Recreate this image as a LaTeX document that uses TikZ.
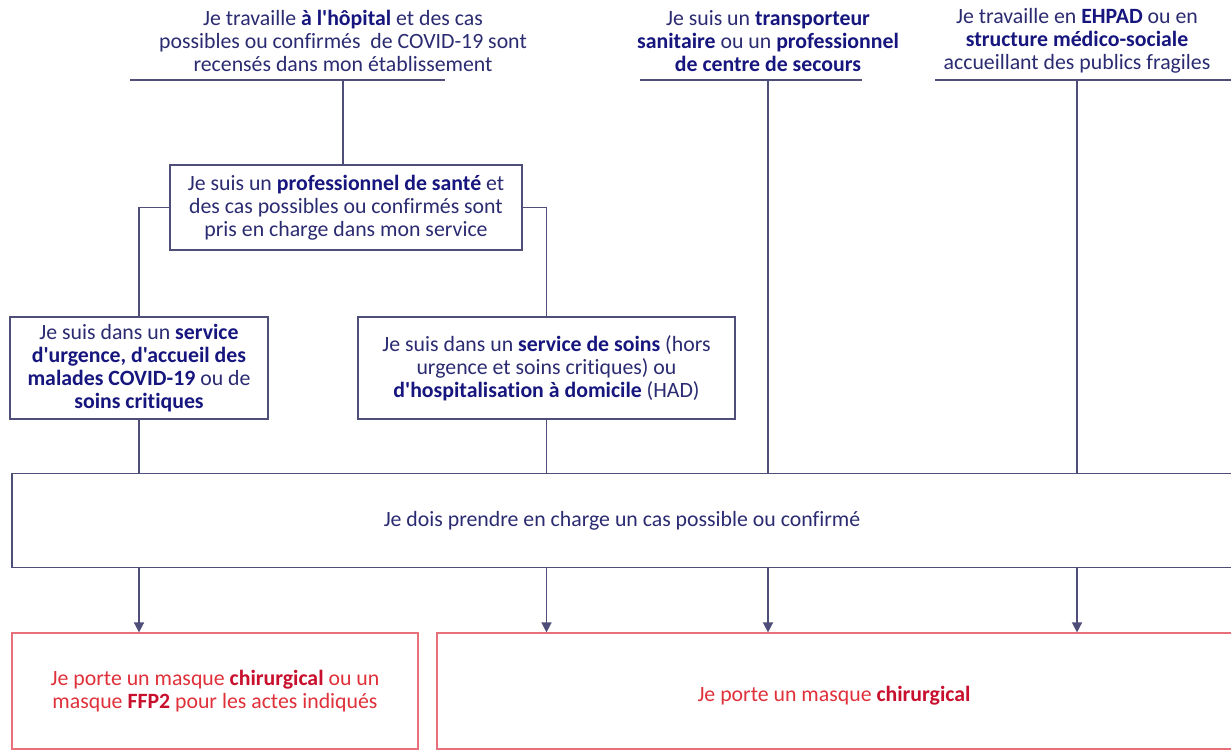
\documentclass[tikz,border=0pt]{standalone}
\usepackage{fontspec}
\setmainfont{Carlito}[Ligatures={TeXOff,NoCommon}]
\usetikzlibrary{arrows.meta}
\definecolor{navy}{HTML}{2B2B72}
\definecolor{bnavy}{HTML}{16167E}
\definecolor{lineg}{HTML}{4E4E78}
\definecolor{rtext}{HTML}{E0303A}
\definecolor{rbold}{HTML}{C8102E}
\definecolor{rline}{HTML}{E8707A}
\newcommand{\hb}[1]{\textbf{\color{bnavy}#1}}
\newcommand{\rb}[1]{\textbf{\color{rbold}#1}}
\tikzset{
  fnt/.style={font=\fontsize{21.8}{22.8}\selectfont},
  txt/.style={align=center,text=navy,fnt,inner sep=0pt},
  bbox/.style={draw=lineg,line width=1.5pt,text=navy,align=center,fnt,inner sep=0pt},
  rbox/.style={draw=rline,line width=1.2pt,text=rtext,align=center,fnt,inner sep=0pt},
  conn/.style={draw=lineg,line width=1.5pt},
  arr/.style={conn,-{Triangle[length=10pt,width=10pt]}},
  uline/.style={draw=lineg,line width=2.2pt}
}
\begin{document}
\begin{tikzpicture}[x=1pt,y=-1pt]
\clip (0,0) rectangle (1231,751);
\useasboundingbox (0,0) rectangle (1231,751);
\fill[white] (0,0) rectangle (1231,751);
% top texts
\node[txt] (t1) at (343,41) {Je travaille \hb{à l'hôpital} et des cas\\possibles ou confirmés\ \ de COVID-19 sont\\recensés dans mon établissement};
\node[txt] (t2) at (768,41) {Je suis un \hb{transporteur}\\\hb{sanitaire} ou un \hb{professionnel}\\\hb{de centre de secours}};
\node[txt] (t3) at (1077,41) {Je travaille en \hb{EHPAD} ou en\\\hb{structure médico-sociale}\\accueillant des publics fragiles};
\coordinate (u1l) at (130,80); \coordinate (u1r) at (445,80); \coordinate (u1c) at (343,80);
\coordinate (u2l) at (640,80); \coordinate (u2r) at (862,80); \coordinate (u2c) at (768,80);
\coordinate (u3l) at (935,80); \coordinate (u3r) at (1240,80); \coordinate (u3c) at (1077,80);
\draw[uline] (u1l) -- (u1r);
\draw[uline] (u2l) -- (u2r);
\draw[uline] (u3l) -- (u3r);
% boxes
\node[bbox,minimum width=352pt,minimum height=85pt] (pro) at (346,207.5) {Je suis un \hb{professionnel de santé} et\\des cas possibles ou confirmés sont\\pris en charge dans mon service};
\node[bbox,minimum width=258pt,minimum height=102pt] (urg) at (139,368) {Je suis dans un \hb{service}\\\hb{d'urgence, d'accueil des}\\\hb{malades COVID-19} ou de\\\hb{soins critiques}};
\node[bbox,minimum width=377pt,minimum height=102pt] (soins) at (546.5,368) {Je suis dans un \hb{service de soins} (hors\\urgence et soins critiques) ou\\\hb{d'hospitalisation à domicile} (HAD)};
\node[bbox,minimum width=1230pt,minimum height=94pt] (big) at (627,520.5) {};
\node[txt] (bigt) at (622,521) {Je dois prendre en charge un cas possible ou confirmé};
\node[rbox,minimum width=406pt,minimum height=116pt] (r1) at (215,691) {Je porte un masque \rb{chirurgical} ou un\\masque \rb{FFP2} pour les actes indiqués};
\node[rbox,minimum width=806pt,minimum height=116pt] (r2) at (840,691) {};
\node[txt,text=rtext] (r2t) at (834,696) {Je porte un masque \rb{chirurgical}};
% connectors
\draw[conn] (u1c) -- (u1c |- pro.north);
\draw[conn] (u2c) -- (u2c |- big.north);
\draw[conn] (u3c) -- (u3c |- big.north);
\draw[conn] (pro.west) -| (urg.north);
\draw[conn] (pro.east) -| (soins.north);
\draw[conn] (urg.south) -- (urg.south |- big.north);
\draw[conn] (soins.south) -- (soins.south |- big.north);
\draw[arr] (urg.south |- big.south) -- (urg.south |- r1.north);
\draw[arr] (soins.south |- big.south) -- (soins.south |- r2.north);
\draw[arr] (u2c |- big.south) -- (u2c |- r2.north);
\draw[arr] (u3c |- big.south) -- (u3c |- r2.north);
\end{tikzpicture}
\end{document}
